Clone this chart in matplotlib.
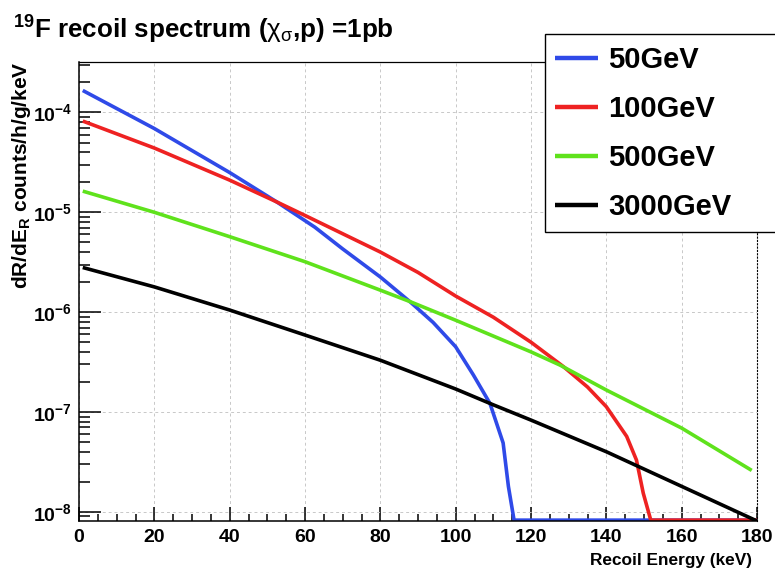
import numpy as np
import matplotlib
matplotlib.use('Agg')
import matplotlib.pyplot as plt
from matplotlib.patches import Rectangle
from matplotlib.ticker import LogLocator, FixedLocator, NullFormatter

plt.rcParams['font.family'] = ['Liberation Sans', 'DejaVu Sans']
plt.rcParams['mathtext.fontset'] = 'custom'
plt.rcParams['mathtext.rm'] = 'Liberation Sans:bold'
plt.rcParams['mathtext.bf'] = 'Liberation Sans:bold'
plt.rcParams['mathtext.it'] = 'Liberation Sans'

# Recoil spectra (keV, counts/h/g/keV); 0 = below range
e_50 = [1, 20, 40, 52.5, 62.6, 70, 80, 88, 94, 100, 104.7, 109.1, 112.6, 114,
        115.5, 180]
r_50 = [1.66e-4, 6.9e-5, 2.5e-5, 1.27e-5, 7.1e-6, 4.3e-6, 2.25e-6, 1.26e-6,
        7.9e-7, 4.5e-7, 2.35e-7, 1.22e-7, 4.9e-8, 1.8e-8, 0, 0]

e_100 = [1, 20, 40, 52.5, 60, 80, 90, 100, 110, 120, 128.6, 135, 140, 145.4,
         148, 149.8, 151.8, 180]
r_100 = [8.2e-5, 4.4e-5, 2.1e-5, 1.27e-5, 9.3e-6, 4.0e-6, 2.5e-6, 1.45e-6,
         8.9e-7, 5.0e-7, 2.85e-7, 1.78e-7, 1.13e-7, 5.7e-8, 3.3e-8, 1.54e-8,
         0, 0]

e_500 = [1, 20, 40, 60, 80, 88, 100, 120, 127.7, 140, 160, 178.6]
r_500 = [1.63e-5, 1.0e-5, 5.7e-6, 3.2e-6, 1.66e-6, 1.27e-6, 8.3e-7, 4.0e-7,
         2.95e-7, 1.66e-7, 6.9e-8, 2.6e-8]

e_3000 = [1, 20, 40, 60, 80, 100, 110, 120, 140, 160, 180]
r_3000 = [2.8e-6, 1.79e-6, 1.05e-6, 5.9e-7, 3.3e-7, 1.7e-7, 1.18e-7, 8.3e-8,
          4.0e-8, 1.8e-8, 8.1e-9]

labels = ['50GeV', '100GeV', '500GeV', '3000GeV']
colors = ['#2f4ae8', '#ee2222', '#5fe21c', '#000000']

x_ticks = list(range(0, 181, 20))
x_minor = list(range(0, 181, 5))
y_ticks = [1e-8, 1e-7, 1e-6, 1e-5, 1e-4]
y_ticklabels = [r'$\mathbf{10^{-8}}$', r'$\mathbf{10^{-7}}$', r'$\mathbf{10^{-6}}$',
                r'$\mathbf{10^{-5}}$', r'$\mathbf{10^{-4}}$']

y_min, y_max = 8.1e-9, 3.2e-4

W, H = 775, 573
fig = plt.figure(figsize=(W / 100, H / 100), dpi=100)
ax = fig.add_axes([79 / W, 1 - 521 / H, (757 - 79) / W, (521 - 62) / H])

series = [(e_50, r_50), (e_100, r_100), (e_500, r_500), (e_3000, r_3000)]
handles = []
for (e, r), lab, col in zip(series, labels, colors):
    # zero bins are drawn on the bottom of the frame, like ROOT does
    r = np.where(np.array(r) > 0, np.array(r), y_min * 1.02)
    h, = ax.plot(e, r, color=col, lw=2.6, label=lab, solid_capstyle='butt')
    handles.append(h)

ax.set_yscale('log')
ax.set_xlim(0, 180)
ax.set_ylim(y_min, y_max)

ax.xaxis.set_major_locator(FixedLocator(x_ticks))
ax.xaxis.set_minor_locator(FixedLocator(x_minor))
ax.yaxis.set_major_locator(FixedLocator(y_ticks))
ax.yaxis.set_minor_locator(LogLocator(base=10, subs=np.arange(2, 10) * 1.0, numticks=20))
ax.yaxis.set_minor_formatter(NullFormatter())
ax.set_yticklabels(y_ticklabels)
ax.set_xticklabels([str(v) for v in x_ticks])

ax.tick_params(axis='both', which='both', direction='in', top=False, right=False,
               width=1.1, labelsize=14)
ax.tick_params(axis='y', which='major', length=16, pad=5)
ax.tick_params(axis='y', which='minor', length=8)
ax.tick_params(axis='x', which='major', length=10, pad=6)
ax.tick_params(axis='x', which='minor', length=5)
for lab in ax.get_xticklabels() + ax.get_yticklabels():
    lab.set_fontweight('bold')

ax.grid(True, which='major', ls=(0, (3, 3)), color='#c8c8c8', lw=0.7)
for side in ['left', 'bottom']:
    ax.spines[side].set_linewidth(1.1)
ax.spines['top'].set_linewidth(0.9)
ax.spines['right'].set_linestyle((0, (1, 2)))
ax.spines['right'].set_linewidth(0.8)

fig.text(13 / W, 1 - 30 / H, r'$^{19}$F recoil spectrum ($\chi_{\sigma}$,p) =1pb',
         fontsize=18.7, fontweight='bold', va='center', ha='left')
fig.text(22 / W, 1 - 175 / H, r'dR/dE$_{\mathbf{R}}$ counts/h/g/keV', rotation=90,
         fontsize=15, fontweight='bold', va='center', ha='center')
fig.text(752 / W, 1 - 560 / H, 'Recoil Energy (keV)', fontsize=12.4,
         fontweight='bold', va='center', ha='right')

# legend box (white, black border) drawn separately so it can run to the edge
fig.patches.append(Rectangle((545 / W, 1 - 232 / H), 232 / W, 198 / H,
                             transform=fig.transFigure, facecolor='white',
                             edgecolor='black', lw=1.0, zorder=3))
leg = fig.legend(handles=handles, loc='upper left',
                 bbox_to_anchor=(555 / W, 1 - 46 / H),
                 prop={'family': 'Liberation Sans', 'weight': 'bold', 'size': 21},
                 frameon=False, handlelength=1.47, handletextpad=0.34,
                 labelspacing=0.72, borderpad=0, borderaxespad=0)
leg.set_zorder(4)
for line in leg.get_lines():
    line.set_linewidth(3.2)

fig.savefig('out.png', dpi=100)
